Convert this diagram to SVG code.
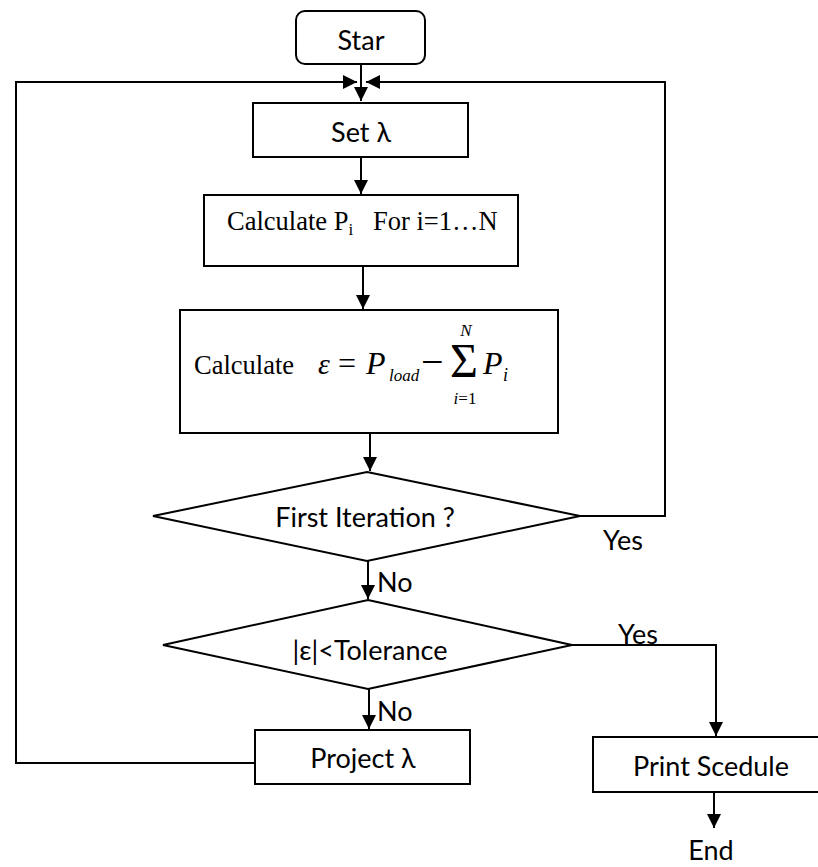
<svg xmlns="http://www.w3.org/2000/svg" width="818" height="867" viewBox="0 0 818 867">
<style>
.box{fill:#fff;stroke:#000;stroke-width:2}
.ln{fill:none;stroke:#000;stroke-width:2}
.t{font-family:Lato,"Liberation Sans",sans-serif;font-size:27px;fill:#000;text-anchor:middle}
.tl{font-family:Lato,"Liberation Sans",sans-serif;font-size:27px;fill:#000}
.s{font-family:"Liberation Serif","Times New Roman",serif;fill:#000}
.i{font-style:italic}
</style>
<defs>
<marker id="ah" viewBox="0 0 14 14" refX="14" refY="7" markerWidth="14" markerHeight="14" markerUnits="userSpaceOnUse" orient="auto">
<path d="M0,0 L14,7 L0,14 Z" fill="#000"/>
</marker>
</defs>
<rect width="818" height="867" fill="#fff"/>
<g id="connectors">
<line class="ln" x1="361" y1="64" x2="361" y2="101" marker-end="url(#ah)"/>
<line class="ln" x1="361" y1="157" x2="361" y2="194" marker-end="url(#ah)"/>
<line class="ln" x1="363" y1="266" x2="363" y2="309" marker-end="url(#ah)"/>
<line class="ln" x1="370" y1="433" x2="370" y2="471" marker-end="url(#ah)"/>
<line class="ln" x1="368" y1="561" x2="368" y2="599" marker-end="url(#ah)"/>
<line class="ln" x1="369" y1="689" x2="369" y2="729" marker-end="url(#ah)"/>
<polyline class="ln" points="580,516 665,516 665,82 366,82" marker-end="url(#ah)"/>
<polyline class="ln" points="255,763 16,763 16,82 357,82" marker-end="url(#ah)"/>
<polyline class="ln" points="572,645 716,645 716,736" marker-end="url(#ah)"/>
<line class="ln" x1="714" y1="792" x2="714" y2="828" marker-end="url(#ah)"/>
<text class="tl" x="603" y="550">Yes</text>
<text class="tl" x="377" y="592">No</text>
<text class="tl" x="618" y="644">Yes</text>
<text class="tl" x="377" y="721">No</text>
</g>
<g id="start">
<rect class="box" x="296" y="11" width="129" height="53" rx="9"/>
<text class="t" x="361" y="50">Star</text>
</g>
<g id="set-lambda">
<rect class="box" x="253" y="103" width="215" height="54"/>
<text class="t" x="361" y="142">Set λ</text>
</g>
<g id="calc-p">
<rect class="box" x="204" y="195" width="314" height="71"/>
<text class="s" x="227" y="230" font-size="26.5">Calculate P<tspan font-size="17" dy="5">i</tspan><tspan x="373" dy="-5">For i=1…N</tspan></text>
</g>
<g id="calc-eps">
<rect class="box" x="180" y="310" width="378" height="123"/>
<text class="s" x="194" y="374" font-size="26.5">Calculate</text>
<text class="s i" x="318" y="374" font-size="30">ε</text>
<text class="s" x="338" y="374" font-size="32">=</text>
<text class="s i" x="366" y="374" font-size="32">P</text>
<text class="s i" x="389" y="381" font-size="17">load</text>
<text class="s" x="421" y="375" font-size="40">−</text>
<text class="s" x="450" y="377" font-size="48">Σ</text>
<text class="s i" x="466" y="336" font-size="17" text-anchor="middle">N</text>
<text class="s" x="465" y="404" font-size="17" text-anchor="middle"><tspan font-style="italic">i</tspan>=1</text>
<text class="s i" x="483" y="374" font-size="32">P</text>
<text class="s i" x="503" y="381" font-size="18">i</text>
</g>
<g id="first-iteration">
<polygon class="box" points="367,472 580,516 367,561 153,516"/>
<text class="t" x="365" y="527">First Iteration ?</text>
</g>
<g id="tolerance">
<polygon class="box" points="368,600 572,645 368,689 163,645"/>
<text class="t" x="370" y="660">|ε|&lt;Tolerance</text>
</g>
<g id="project-lambda">
<rect class="box" x="255" y="730" width="215" height="54"/>
<text class="t" x="363" y="768">Project λ</text>
</g>
<g id="print-schedule">
<rect class="box" x="593" y="737" width="246" height="55"/>
<text class="t" x="711" y="776">Print Scedule</text>
</g>
<g id="end">
<text class="t" x="711" y="860">End</text>
</g>
</svg>
